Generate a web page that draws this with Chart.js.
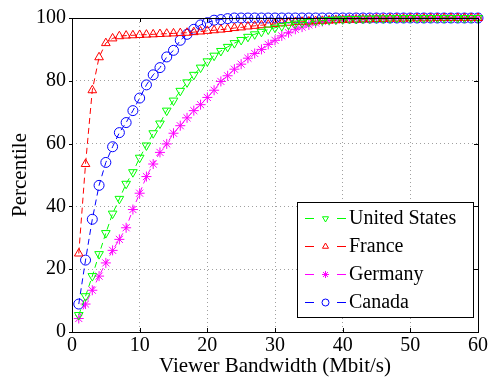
<!DOCTYPE html>
<html>
<head>
<meta charset="utf-8">
<script src="https://cdn.jsdelivr.net/npm/chart.js@4.4.1/dist/chart.umd.min.js"></script>
<style>
  html, body { margin: 0; padding: 0; background: #fff; }
  #wrap { width: 490px; height: 379px; position: relative; }
</style>
</head>
<body>
<div id="wrap"><canvas id="chart" width="490" height="379"></canvas></div>
<script>
// Bandwidth values (Mbit/s), one point per 1 Mbit/s
const BANDWIDTH = Array.from({ length: 60 }, (_, i) => i + 1);

const US = [5.4, 11.4, 17.8, 24.8, 31.5, 37.7, 42.4, 47.2, 50.9, 55.5,
  59.4, 63.3, 66.4, 70.5, 73.7, 76.8, 79.5, 81.9, 84.2, 86.2,
  88, 89.5, 90.8, 92, 93, 94, 94.8, 95.6, 96.3, 96.9,
  97.4, 97.8, 98.2, 98.5, 98.8, 99, 99.2, 99.4, 99.5, 99.6,
  99.7, 99.7, 99.8, 99.8, 99.9, 99.9, 99.9, 100, 100, 100,
  100, 100, 100, 100, 100, 100, 100, 100, 100, 100];

const FRANCE = [25, 53.5, 77, 87.5, 92, 93.5, 94.2, 94.4, 94.5, 94.6,
  94.7, 94.8, 94.9, 95, 95.1, 95.2, 95.3, 95.5, 95.7, 95.9,
  96.1, 96.3, 96.5, 96.8, 97, 97.3, 97.5, 97.7, 97.9, 98.1,
  98.3, 98.5, 98.7, 98.8, 98.9, 99, 99.1, 99.2, 99.3, 99.4,
  99.5, 99.5, 99.6, 99.6, 99.7, 99.7, 99.8, 99.8, 99.8, 99.9,
  99.9, 99.9, 99.9, 100, 100, 100, 100, 100, 100, 100];

const GERMANY = [4.3, 8.9, 13.3, 17.8, 22, 26, 29.5, 33.2, 39, 44.2,
  49.5, 53.5, 57.2, 59.9, 63.3, 65.7, 68.2, 70.5, 72.4, 74.7,
  77, 79.8, 81.6, 83.7, 85.3, 87.2, 88.7, 90, 91.6, 92.9,
  94.3, 95.3, 96.4, 97.1, 97.8, 98.4, 98.9, 99.2, 99.4, 99.6,
  99.7, 99.8, 99.8, 99.9, 100, 100, 100, 100, 100, 100,
  100, 100, 100, 100, 100, 100, 100, 100, 100, 100];

const CANADA = [8.9, 22.9, 35.9, 46.7, 54, 59, 63.5, 66.7, 70.5, 74.5,
  78.7, 81.9, 84.2, 87.6, 89.7, 92.9, 94.8, 96.4, 97.8, 98.5,
  99.3, 99.5, 99.8, 100, 100, 100, 100, 100, 100, 100,
  100, 100, 100, 100, 100, 100, 100, 100, 100, 100,
  100, 100, 100, 100, 100, 100, 100, 100, 100, 100,
  100, 100, 100, 100, 100, 100, 100, 100, 100, 100];

const X_TICKS = [0, 10, 20, 30, 40, 50, 60];
const Y_TICKS = [0, 20, 40, 60, 80, 100];

const FONT = '"Liberation Serif", "Times New Roman", serif';

function serie(label, values, color, pointStyle, rotation) {
  return {
    label,
    data: BANDWIDTH.map((x, i) => ({ x, y: values[i] })),
    borderColor: color,
    backgroundColor: 'transparent',
    borderWidth: 1,
    borderDash: [6, 4],
    pointStyle,
    rotation: rotation || 0,
    pointRadius: 5,
    pointBorderWidth: 1,
    pointBorderColor: color,
    pointBackgroundColor: 'transparent',
    tension: 0,
    clip: false,
  };
}

const datasets = [
  serie('United States', US, '#00ff00', 'triangle', 180),
  serie('France', FRANCE, '#ff0000', 'triangle'),
  serie('Germany', GERMANY, '#ff00ff', 'star'),
  serie('Canada', CANADA, '#0000ff', 'circle'),
];

// marco, ticks y leyenda estilo MATLAB
const marco = {
  id: 'marco',
  afterDatasetsDraw(chart) {
    const { ctx, chartArea: a, scales } = chart;
    ctx.save();
    ctx.strokeStyle = '#000';
    ctx.lineWidth = 1;
    ctx.strokeRect(a.left + 0.5, a.top + 0.5, a.right - a.left, a.bottom - a.top);
    ctx.beginPath();
    for (const t of X_TICKS) {
      const px = Math.round(scales.x.getPixelForValue(t)) + 0.5;
      ctx.moveTo(px, a.bottom); ctx.lineTo(px, a.bottom - 4);
      ctx.moveTo(px, a.top); ctx.lineTo(px, a.top + 4);
    }
    for (const t of Y_TICKS) {
      const py = Math.round(scales.y.getPixelForValue(t)) + 0.5;
      ctx.moveTo(a.left, py); ctx.lineTo(a.left - 3, py);
      ctx.moveTo(a.right, py); ctx.lineTo(a.right - 4, py);
    }
    ctx.stroke();

    // leyenda
    const bx = 297, by = 202, bw = 176, bh = 115;
    ctx.fillStyle = '#fff';
    ctx.fillRect(bx, by, bw, bh);
    ctx.strokeRect(bx + 0.5, by + 0.5, bw, bh);
    ctx.font = '20px ' + FONT;
    ctx.textBaseline = 'middle';
    datasets.forEach((ds, i) => {
      const y = 218 + i * 28;
      ctx.strokeStyle = ds.borderColor;
      ctx.beginPath();
      ctx.moveTo(305, y + 0.5); ctx.lineTo(314, y + 0.5);
      ctx.moveTo(337, y + 0.5); ctx.lineTo(346, y + 0.5);
      ctx.stroke();
      ctx.fillStyle = 'transparent';
      Chart.helpers.drawPoint(ctx, { pointStyle: ds.pointStyle, rotation: ds.rotation, radius: 3.5, borderWidth: 1 }, 325.5, y + 0.5);
      ctx.fillStyle = '#000';
      ctx.fillText(ds.label, 349, y + 1);
    });
    ctx.restore();
  },
};

new Chart(document.getElementById('chart'), {
  type: 'line',
  data: { datasets },
  options: {
    responsive: false,
    animation: false,
    layout: { padding: { top: 17, right: 9, left: 0, bottom: 0 } },
    plugins: { legend: { display: false }, tooltip: { enabled: false } },
    scales: {
      x: {
        type: 'linear', min: 0, max: 60,
        afterBuildTicks: (s) => { s.ticks = X_TICKS.map((v) => ({ value: v })); },
        afterFit: (s) => { s.height = 47; },
        grid: { color: '#a0a0a0', drawTicks: false },
        border: { display: false, dash: [1, 3] },
        ticks: { color: '#000', font: { family: FONT, size: 20 }, padding: 2, maxRotation: 0 },
        title: { display: true, text: 'Viewer Bandwidth (Mbit/s)', color: '#000', font: { family: FONT, size: 21 }, padding: { top: -3, bottom: 0 } },
      },
      y: {
        min: 0, max: 100,
        afterBuildTicks: (s) => { s.ticks = Y_TICKS.map((v) => ({ value: v })); },
        afterFit: (s) => { s.width = 72; },
        grid: { color: '#a0a0a0', drawTicks: false },
        border: { display: false, dash: [1, 3] },
        ticks: { color: '#000', font: { family: FONT, size: 20 }, padding: 6 },
        title: { display: true, text: 'Percentile', color: '#000', font: { family: FONT, size: 21 }, padding: { top: 8, bottom: 0 } },
      },
    },
  },
  plugins: [marco],
});
</script>
</body>
</html>
